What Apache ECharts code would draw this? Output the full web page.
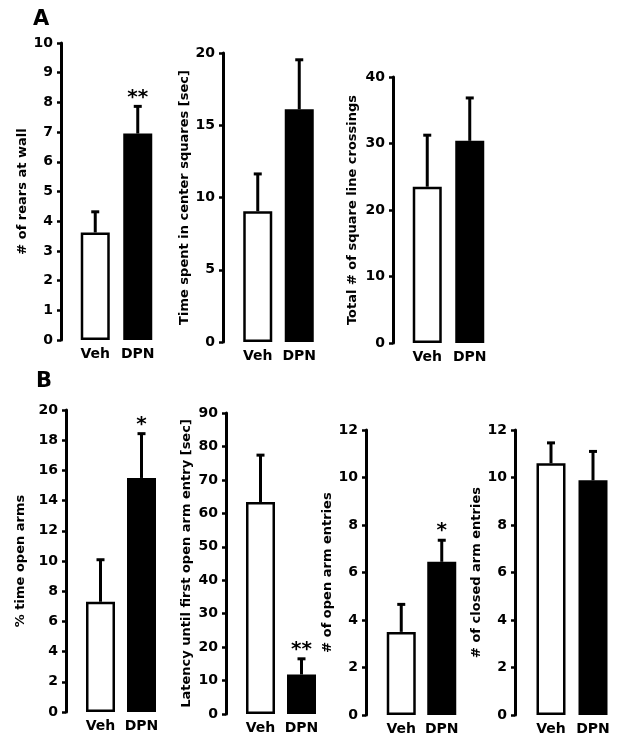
<!DOCTYPE html>
<html><head><meta charset="utf-8">
<script src="https://cdn.jsdelivr.net/npm/echarts@6/dist/echarts.min.js"></script>
<style>html,body{margin:0;padding:0;background:#fff}#c{width:624px;height:749px}</style>
</head><body><div id="c"></div>
<script>
// ---- data ----
const categories = ['Veh', 'DPN'];

const rearsMean = [3.62, 6.95];
const rearsSem = [0.73, 0.95];
const rearsSig = ['', '**'];

const centerTimeMean = [9.05, 16.1];
const centerTimeSem = [2.65, 3.5];
const centerTimeSig = ['', ''];

const crossingsMean = [23.5, 30.4];
const crossingsSem = [7.9, 6.6];
const crossingsSig = ['', ''];

const openTimeMean = [7.3, 15.5];
const openTimeSem = [2.85, 3.0];
const openTimeSig = ['', '*'];

const latencyMean = [63.4, 11.8];
const latencySem = [14.3, 5.0];
const latencySig = ['', '**'];

const openEntriesMean = [3.5, 6.45];
const openEntriesSem = [1.2, 0.95];
const openEntriesSig = ['', '*'];

const closedEntriesMean = [10.6, 9.88];
const closedEntriesSem = [0.9, 1.26];
const closedEntriesSig = ['', ''];

const yTitles = ['# of rears at wall', 'Time spent in center squares [sec]', 'Total # of square line crossings',
  '% time open arms', 'Latency until first open arm entry [sec]', '# of open arm entries', '# of closed arm entries'];
const yMaxes = [10, 20, 40, 20, 90, 12, 12];
const yIntervals = [1, 5, 10, 2, 10, 2, 2];
const panelLetters = ['A', 'B'];

// ---- layout (pixels) ----
const means = [rearsMean, centerTimeMean, crossingsMean, openTimeMean, latencyMean, openEntriesMean, closedEntriesMean];
const sems = [rearsSem, centerTimeSem, crossingsSem, openTimeSem, latencySem, openEntriesSem, closedEntriesSem];
const sigs = [rearsSig, centerTimeSig, crossingsSig, openTimeSig, latencySig, openEntriesSig, closedEntriesSig];
// [gridLeft, gridWidth, top, bottomY, axisOffset, nameGap]
const layout = [
  [74, 85, 43, 340, 13, 31],
  [237, 83, 53, 342, 14, 30],
  [406, 85, 77, 343, 13, 34],
  [80, 82, 410, 712, 14, 39],
  [240, 82, 413, 714, 14, 33],
  [381, 81, 430, 715, 15, 31],
  [530, 84, 430, 715, 15, 25]
];

const FONT = '"DejaVu Sans", Verdana, sans-serif';
const grids = [], xAxes = [], yAxes = [], series = [];
layout.forEach((L, i) => {
  grids.push({ left: L[0], width: L[1], top: L[2], height: L[3] - L[2], containLabel: false });
  xAxes.push({
    type: 'category', gridIndex: i, data: categories,
    axisLine: { show: false }, axisTick: { show: false },
    axisLabel: { interval: 0, hideOverlap: false, color: '#000', fontFamily: FONT, fontWeight: 'bold', fontSize: 14, margin: 7 }
  });
  yAxes.push({
    type: 'value', gridIndex: i, min: 0, max: yMaxes[i], interval: yIntervals[i],
    position: 'left', offset: L[4],
    name: yTitles[i], nameLocation: 'middle', nameGap: L[5], nameRotate: 90,
    nameTextStyle: { color: '#000', fontFamily: FONT, fontWeight: 'bold', fontSize: 13 },
    axisLine: { show: true, lineStyle: { color: '#000', width: 3 } },
    axisTick: { show: true, length: 4, lineStyle: { color: '#000', width: 2.5 } },
    axisLabel: { color: '#000', fontFamily: FONT, fontWeight: 'bold', fontSize: 14, margin: 8 },
    splitLine: { show: false }
  });
  series.push({
    type: 'bar', xAxisIndex: i, yAxisIndex: i, barWidth: 29, silent: true,
    data: means[i].map((v, k) => ({
      value: v,
      itemStyle: { color: k === 0 ? '#fff' : '#000', borderColor: '#000', borderWidth: 2.5 }
    }))
  });
  series.push({
    type: 'custom', xAxisIndex: i, yAxisIndex: i, silent: true, z: 5,
    data: means[i].map((v, k) => [k, v, sems[i][k]]),
    renderItem: (params, api) => {
      const k = api.value(0), m = api.value(1), s = api.value(2);
      const star = sigs[i][k];
      const b = api.coord([k, m]);
      const t = api.coord([k, m + s]);
      const children = [
        { type: 'line', shape: { x1: b[0], y1: b[1], x2: t[0], y2: t[1] + 1 }, style: { stroke: '#000', lineWidth: 3 } },
        { type: 'line', shape: { x1: t[0] - 4, y1: t[1] + 1, x2: t[0] + 4, y2: t[1] + 1 }, style: { stroke: '#000', lineWidth: 3 } }
      ];
      if (star) {
        children.push({ type: 'text', x: t[0], y: t[1] - 8,
          style: { text: star, fill: '#000', font: 'bold 20px ' + FONT, align: 'center', verticalAlign: 'middle' } });
      }
      return { type: 'group', children };
    }
  });
});

const chart = echarts.init(document.getElementById('c'), null, { renderer: 'canvas' });
chart.setOption({
  backgroundColor: '#fff',
  animation: false,
  grid: grids, xAxis: xAxes, yAxis: yAxes, series,
  graphic: [
    { type: 'text', left: 33, top: 9, style: { text: panelLetters[0], fill: '#000', font: 'bold 21px ' + FONT } },
    { type: 'text', left: 36, top: 371, style: { text: panelLetters[1], fill: '#000', font: 'bold 21px ' + FONT } }
  ]
});
</script></body></html>
